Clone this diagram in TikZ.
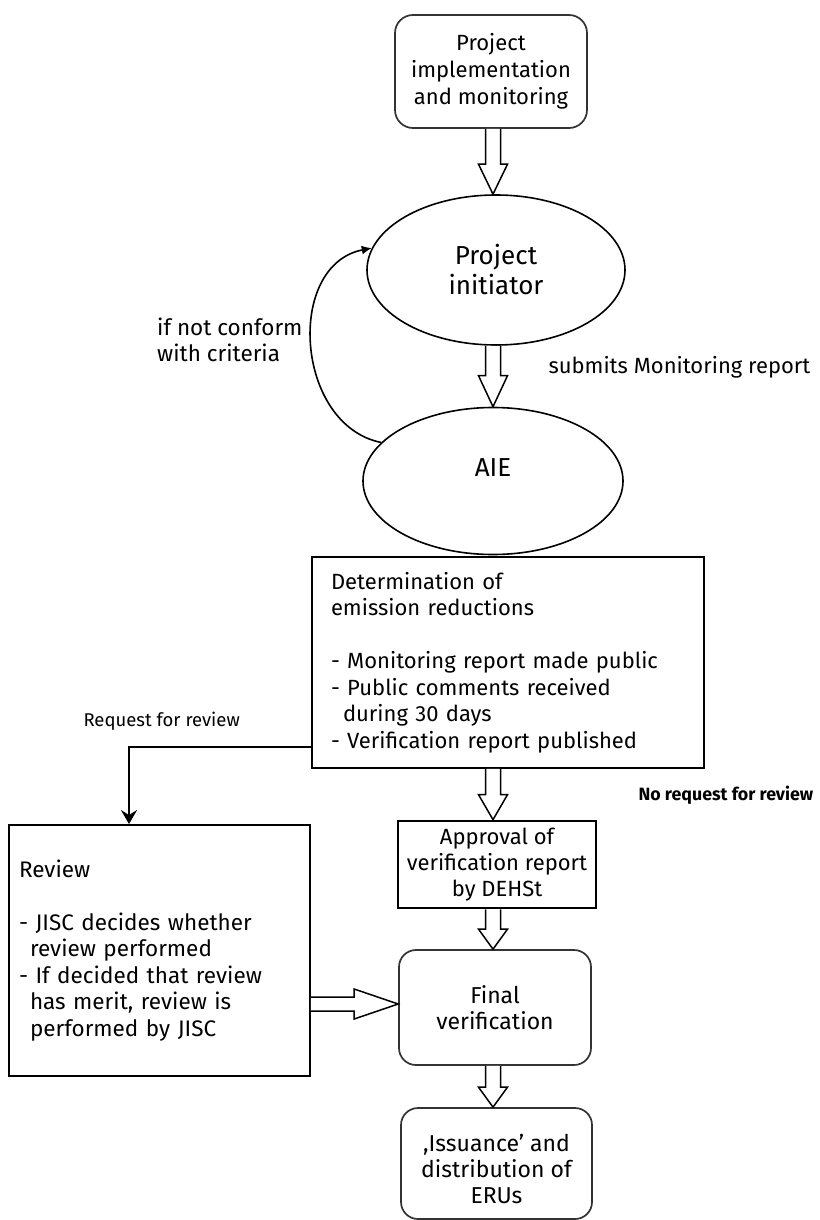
\documentclass[tikz,border=0pt]{standalone}
\usepackage{fontspec}
\setmainfont{Fira Sans}
\usetikzlibrary{shapes.geometric,arrows.meta,calc}

% hollow block arrow pointing down: #1 start, #2 tip, #3 head length
\newcommand{\fatdown}[3]{%
  \draw[fatarrow] let \p1=(#1), \p2=(#2) in
    (\x2-7.5pt,\y1) -- (\x2-7.5pt,\y2+#3pt) -- (\x2-14.5pt,\y2+#3pt) -- (\x2,\y2)
    -- (\x2+14.5pt,\y2+#3pt) -- (\x2+7.5pt,\y2+#3pt) -- (\x2+7.5pt,\y1);}
% hollow block arrow pointing right: #1 start, #2 tip, #3 head length
\newcommand{\fatright}[3]{%
  \draw[fatarrow] let \p1=(#1), \p2=(#2) in
    (\x1,\y2+7pt) -- (\x2-#3pt,\y2+7pt) -- (\x2-#3pt,\y2+15pt) -- (\x2,\y2)
    -- (\x2-#3pt,\y2-15pt) -- (\x2-#3pt,\y2-7pt) -- (\x1,\y2-7pt);}

\begin{document}
\begin{tikzpicture}[x=1pt,y=-1pt,
  every node/.style={font=\fontsize{22}{26.5}\selectfont},
  roundbox/.style={draw=black!80,line width=1.7pt,rounded corners=18pt,align=center,inner sep=0pt},
  plainbox/.style={draw,line width=1.9pt,inner sep=0pt},
  oval/.style={draw,ellipse,line width=1.6pt,inner sep=0pt,align=center,
    font=\fontsize{26}{30}\selectfont},
  fatarrow/.style={draw,line width=1.5pt,fill=white,line join=miter},
  looparrow/.style={draw,line width=1.6pt,-{Latex[length=10pt,width=9pt]}},
  reviewarrow/.style={draw,line width=2.5pt,-{Stealth[length=14pt,width=16pt,inset=5pt]}},
  smalllabel/.style={font=\fontsize{18.5}{22}\selectfont},
]
\useasboundingbox (0,0) rectangle (819,1220);

% column positions
\coordinate (spine) at (493,0);
\coordinate (reqline) at (0,747);
\coordinate (lcol) at (129,0);
\coordinate (sideline) at (0,1004);

% nodes of the main flow
\node[roundbox,minimum width=192pt,minimum height=113pt,
      font=\fontsize{22}{27}\selectfont] (impl) at (491,71.5)
  {Project\\implementation\\and monitoring};
\node[oval,minimum width=258pt,minimum height=150pt] (pi) at (496,270)
  {Project\\initiator};
\node[oval,minimum width=260pt,minimum height=147pt] (aie) at (493,481)
  {AIE\\[-4pt]};
\node[plainbox,minimum width=392pt,minimum height=211pt,text width=354pt,
      inner xsep=19pt,align=left] (det) at (508,662.5)
  {Determination of\\
   emission reductions\\[26.5pt]
   - Monitoring report made public\\
   - Public comments received\\
   \hspace*{12pt}during 30 days\\
   - Verification report published};
\node[plainbox,line width=2.7pt,minimum width=198pt,minimum height=87pt,
      align=center,font=\fontsize{22}{26}\selectfont] (appr) at (497,864.5)
  {Approval of\\verification report\\by DEHSt};
\node[plainbox,minimum width=301pt,minimum height=251pt,text width=281pt,
      inner xsep=10pt,align=left,font=\fontsize{22.5}{26.5}\selectfont] (review) at (159.5,950.5)
  {Review\\[26.5pt]
   - JISC decides whether\\
   \hspace*{11pt}review performed\\
   - If decided that review\\
   \hspace*{11pt}has merit, review is\\
   \hspace*{11pt}performed by JISC};
\node[roundbox,rounded corners=17pt,minimum width=192pt,minimum height=115pt,
      font=\fontsize{23}{26.5}\selectfont] (final)
  at (495,1007.5) {Final\\verification};
\node[roundbox,rounded corners=17pt,minimum width=191pt,minimum height=111pt] (iss)
  at (496.5,1163.5) {};
\node[align=center,font=\fontsize{23}{26}\selectfont] (isstext) at (496.5,1169)
  {,Issuance' and\\distribution of\\ERUs};

% free labels
\node[anchor=east,align=left,font=\fontsize{22.5}{26}\selectfont] (crit) at (306,340)
  {if not conform\\with criteria};
\node[anchor=west] (sub) at (545,367) {submits Monitoring report};
\node[anchor=west,smalllabel] (req) at (80,721) {Request for review};
\node[anchor=west,font=\bfseries\fontsize{17.8}{22}\selectfont] (noreq)
  at (635,795) {No request for review};

% block arrows along the main flow
\fatdown{impl.south -| spine}{pi.north -| spine}{30}
\fatdown{pi.south -| spine}{aie.north -| spine}{31}
\fatdown{det.south -| spine}{appr.north -| spine}{25}
\fatdown{appr.south -| spine}{final.north -| spine}{20}
\fatdown{final.south -| spine}{iss.north -| spine}{20}
\fatright{review.east |- sideline}{final.west |- sideline}{44}

% feedback loop and review branch
\draw[looparrow] (aie.161) .. controls (295,425) and (285,265) .. (pi.170);
\draw[reviewarrow] (det.west |- reqline) -| (review.north -| lcol);
\end{tikzpicture}
\end{document}
